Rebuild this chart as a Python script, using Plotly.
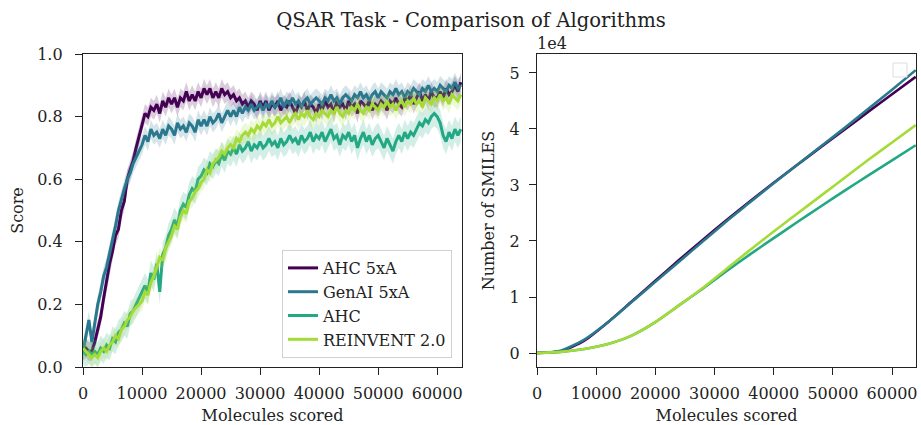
import plotly.graph_objects as go

# ---- Score curves (mean score per 500 molecules scored) ----
molecules_scored = list(range(0, 64001, 500))

ahc_5xa_score = [
    0.05, 0.06, 0.05, 0.05, 0.08, 0.12, 0.16, 0.22, 0.28, 0.33,
    0.37, 0.42, 0.44, 0.50, 0.53, 0.60, 0.63, 0.66, 0.70, 0.74,
    0.78, 0.81, 0.80, 0.83, 0.82, 0.84, 0.81, 0.85, 0.83, 0.86,
    0.84, 0.86, 0.83, 0.86, 0.85, 0.88, 0.85, 0.87, 0.85, 0.88,
    0.86, 0.89, 0.87, 0.89, 0.86, 0.88, 0.86, 0.89, 0.87, 0.88,
    0.86, 0.87, 0.85, 0.86, 0.84, 0.85, 0.83, 0.85, 0.84, 0.82,
    0.85, 0.83, 0.85, 0.82, 0.84, 0.83, 0.85, 0.82, 0.84, 0.83,
    0.85, 0.83, 0.81, 0.84, 0.83, 0.85, 0.82, 0.84, 0.83, 0.81,
    0.84, 0.82, 0.85, 0.83, 0.84, 0.81, 0.85, 0.83, 0.84, 0.82,
    0.85, 0.83, 0.84, 0.81, 0.85, 0.84, 0.83, 0.85, 0.82, 0.84,
    0.83, 0.85, 0.84, 0.82, 0.85, 0.84, 0.86, 0.84, 0.83, 0.86,
    0.85, 0.87, 0.84, 0.86, 0.88, 0.85, 0.87, 0.85, 0.88, 0.86,
    0.86, 0.88, 0.86, 0.89, 0.87, 0.88, 0.90, 0.88, 0.91,
]

genai_5xa_score = [
    0.05, 0.10, 0.15, 0.08, 0.14, 0.20, 0.24, 0.29, 0.32, 0.36,
    0.40, 0.45, 0.50, 0.54, 0.57, 0.60, 0.62, 0.65, 0.67, 0.69,
    0.71, 0.74, 0.72, 0.76, 0.74, 0.75, 0.73, 0.76, 0.74, 0.77,
    0.76, 0.74, 0.78, 0.76, 0.77, 0.75, 0.78, 0.77, 0.75, 0.79,
    0.77, 0.79, 0.77, 0.80, 0.78, 0.79, 0.81, 0.78, 0.80, 0.82,
    0.80, 0.82, 0.80, 0.83, 0.81, 0.83, 0.82, 0.84, 0.82, 0.83,
    0.84, 0.82, 0.84, 0.83, 0.85, 0.83, 0.84, 0.86, 0.83, 0.85,
    0.84, 0.86, 0.84, 0.85, 0.83, 0.85, 0.86, 0.84, 0.85, 0.86,
    0.85, 0.84, 0.86, 0.85, 0.87, 0.85, 0.86, 0.84, 0.86, 0.87,
    0.86, 0.85, 0.87, 0.86, 0.88, 0.86, 0.87, 0.85, 0.87, 0.88,
    0.86, 0.88, 0.87, 0.86, 0.88, 0.87, 0.89, 0.87, 0.88, 0.86,
    0.88, 0.87, 0.89, 0.88, 0.87, 0.89, 0.88, 0.90, 0.88, 0.89,
    0.88, 0.90, 0.89, 0.88, 0.90, 0.89, 0.91, 0.89, 0.90,
]

ahc_score = [
    0.05, 0.04, 0.05, 0.04, 0.05, 0.04, 0.06, 0.05, 0.07, 0.06,
    0.09, 0.08, 0.11, 0.12, 0.14, 0.13, 0.17, 0.18, 0.20, 0.22,
    0.24, 0.26, 0.24, 0.30, 0.28, 0.33, 0.24, 0.36, 0.38, 0.42,
    0.44, 0.47, 0.45, 0.50, 0.52, 0.51, 0.55, 0.57, 0.56, 0.60,
    0.61, 0.63, 0.62, 0.65, 0.64, 0.66, 0.65, 0.68, 0.66, 0.69,
    0.68, 0.70, 0.68, 0.71, 0.69, 0.70, 0.72, 0.69, 0.71, 0.70,
    0.72, 0.70, 0.71, 0.73, 0.71, 0.72, 0.70, 0.73, 0.71, 0.72,
    0.74, 0.72, 0.73, 0.71, 0.74, 0.72, 0.73, 0.75, 0.72, 0.74,
    0.73, 0.75, 0.72, 0.74, 0.76, 0.73, 0.74, 0.71, 0.74, 0.73,
    0.75, 0.72, 0.74, 0.70, 0.73, 0.75, 0.72, 0.74, 0.71, 0.73,
    0.74, 0.72, 0.70, 0.73, 0.71, 0.69, 0.72, 0.74, 0.72, 0.75,
    0.73, 0.75, 0.74, 0.76, 0.78, 0.77, 0.79, 0.78, 0.80, 0.81,
    0.80, 0.78, 0.74, 0.72, 0.75, 0.73, 0.76, 0.74, 0.76,
]

reinvent_score = [
    0.06, 0.05, 0.04, 0.03, 0.04, 0.03, 0.05, 0.06, 0.05, 0.07,
    0.08, 0.10, 0.09, 0.12, 0.13, 0.15, 0.16, 0.18, 0.19, 0.20,
    0.21, 0.24, 0.23, 0.27, 0.29, 0.32, 0.35, 0.34, 0.38, 0.40,
    0.42, 0.45, 0.44, 0.48, 0.50, 0.49, 0.53, 0.54, 0.56, 0.57,
    0.59, 0.60, 0.63, 0.62, 0.65, 0.66, 0.67, 0.69, 0.68, 0.70,
    0.71, 0.70, 0.73, 0.72, 0.74, 0.75, 0.74, 0.76, 0.75, 0.77,
    0.76, 0.78, 0.77, 0.79, 0.77, 0.78, 0.80, 0.78, 0.79, 0.80,
    0.78, 0.80, 0.81, 0.79, 0.81, 0.80, 0.82, 0.80, 0.79, 0.81,
    0.80, 0.82, 0.81, 0.80, 0.82, 0.81, 0.83, 0.81, 0.80, 0.82,
    0.81, 0.83, 0.82, 0.84, 0.82, 0.81, 0.83, 0.82, 0.84, 0.83,
    0.82, 0.84, 0.83, 0.85, 0.83, 0.84, 0.82, 0.84, 0.85, 0.83,
    0.85, 0.84, 0.86, 0.84, 0.85, 0.83, 0.86, 0.85, 0.84, 0.86,
    0.85, 0.87, 0.85, 0.86, 0.84, 0.87, 0.86, 0.85, 0.87,
]

# spread of the score across repeated runs (half-width of shaded band)
score_spread = {"AHC 5xA": 0.03, "GenAI 5xA": 0.03, "AHC": 0.04, "REINVENT 2.0": 0.03}

# ---- Cumulative number of unique SMILES ----
smiles_molecules = list(range(0, 64001, 4000))
ahc_5xa_smiles = [0, 300, 2200, 5500, 9200, 12900, 16600, 20200, 23700,
                  27100, 30400, 33600, 36800, 39900, 43100, 46200, 49300]
genai_5xa_smiles = [0, 400, 2400, 5500, 9100, 12700, 16300, 19900, 23500,
                    26900, 30300, 33600, 36900, 40200, 43600, 47000, 50500]
ahc_smiles = [0, 200, 700, 1600, 3100, 5500, 8500, 11500, 14600,
              17600, 20500, 23400, 26200, 29000, 31700, 34400, 37100]
reinvent_smiles = [0, 200, 700, 1600, 3100, 5500, 8500, 11600, 15000,
                   18400, 21700, 24900, 28100, 31300, 34500, 37600, 40700]

names = ["AHC 5xA", "GenAI 5xA", "AHC", "REINVENT 2.0"]
colors = ["#440154", "#2a788e", "#22a884", "#a5db36"]
band_colors = ["rgba(68,1,84,0.2)", "rgba(42,120,142,0.2)",
               "rgba(34,168,132,0.2)", "rgba(165,219,54,0.2)"]
scores = [ahc_5xa_score, genai_5xa_score, ahc_score, reinvent_score]
smiles = [ahc_5xa_smiles, genai_5xa_smiles, ahc_smiles, reinvent_smiles]

FONT = "DejaVu Serif"
INK = "#222222"
FS = 16

fig = go.Figure()

# left panel: shaded spread + mean score
for name, col, bcol, y in zip(names, colors, band_colors, scores):
    s = score_spread[name]
    upper = [v + s for v in y]
    lower = [v - s for v in y]
    fig.add_trace(go.Scatter(
        x=molecules_scored + molecules_scored[::-1],
        y=upper + lower[::-1],
        fill="toself", fillcolor=bcol, line=dict(width=0),
        mode="lines", hoverinfo="skip", showlegend=False,
        xaxis="x", yaxis="y"))
    fig.add_trace(go.Scatter(
        x=molecules_scored, y=y, name=name, mode="lines",
        line=dict(color=col, width=3),
        xaxis="x", yaxis="y"))

# right panel: cumulative SMILES
for name, col, y in zip(names, colors, smiles):
    fig.add_trace(go.Scatter(
        x=smiles_molecules, y=y, name=name, mode="lines",
        line=dict(color=col, width=2.6, shape="spline", smoothing=0.6),
        showlegend=False, xaxis="x2", yaxis="y2"))

W, H = 921, 425
axis_common = dict(
    showline=True, mirror=True, linecolor=INK, linewidth=1.3,
    ticks="outside", ticklen=7, tickwidth=1.2, tickcolor=INK,
    showgrid=False, zeroline=False,
    tickfont=dict(family=FONT, size=FS, color=INK),
    automargin=False,
)
x_ticks = [0, 10000, 20000, 30000, 40000, 50000, 60000]
title_font = dict(family=FONT, size=FS, color=INK)

fig.update_layout(
    width=W, height=H,
    margin=dict(l=0, r=0, t=0, b=0),
    paper_bgcolor="white", plot_bgcolor="white",
    font=dict(family=FONT, color=INK),
    title=dict(text="QSAR Task - Comparison of Algorithms",
               font=dict(family=FONT, size=19.6, color=INK),
               x=471 / W, xanchor="center", y=1 - 20 / H, yanchor="middle"),
    xaxis=dict(axis_common, domain=[83 / W, 462 / W], range=[0, 64200],
               tickvals=x_ticks, ticktext=[str(v) for v in x_ticks],
               ticklabelstandoff=5,
               title=dict(text="Molecules scored", standoff=9, font=title_font),
               anchor="y"),
    yaxis=dict(axis_common, domain=[1 - 367 / H, 1 - 54 / H], range=[0, 1.0],
               tickvals=[0, 0.2, 0.4, 0.6, 0.8, 1.0], tickformat=".1f",
               ticklabelstandoff=9,
               title=dict(text="Score", standoff=9, font=title_font),
               anchor="x"),
    xaxis2=dict(axis_common, domain=[537 / W, 916 / W], range=[0, 64050],
                tickvals=x_ticks, ticktext=[str(v) for v in x_ticks],
                ticklabelstandoff=5,
                title=dict(text="Molecules scored", standoff=9, font=title_font),
                anchor="y2"),
    yaxis2=dict(axis_common, domain=[1 - 367 / H, 1 - 54 / H],
                range=[-2500, 53390],
                tickvals=[0, 10000, 20000, 30000, 40000, 50000],
                ticktext=["0", "1", "2", "3", "4", "5"],
                ticklabelstandoff=6,
                title=dict(text="Number of SMILES", standoff=10, font=title_font),
                anchor="x2"),
    legend=dict(x=452 / W, y=1 - 358 / H, xanchor="right", yanchor="bottom",
                bgcolor="white", bordercolor="#d0d0d0", borderwidth=1,
                font=dict(family=FONT, size=FS, color=INK),
                tracegroupgap=0),
    showlegend=True,
)

# offset multiplier for the right-hand y axis
fig.add_annotation(text="1e4", xref="paper", yref="paper",
                   x=535 / W, y=1 - 43 / H, xanchor="left", yanchor="middle",
                   showarrow=False, font=dict(family=FONT, size=FS, color=INK))

# empty legend frame in the right panel
fig.add_shape(type="rect", xref="paper", yref="paper",
              x0=893 / W, x1=907 / W, y0=1 - 77 / H, y1=1 - 63 / H,
              line=dict(color="#dddddd", width=1), fillcolor="white")

fig.write_html("out.html")
